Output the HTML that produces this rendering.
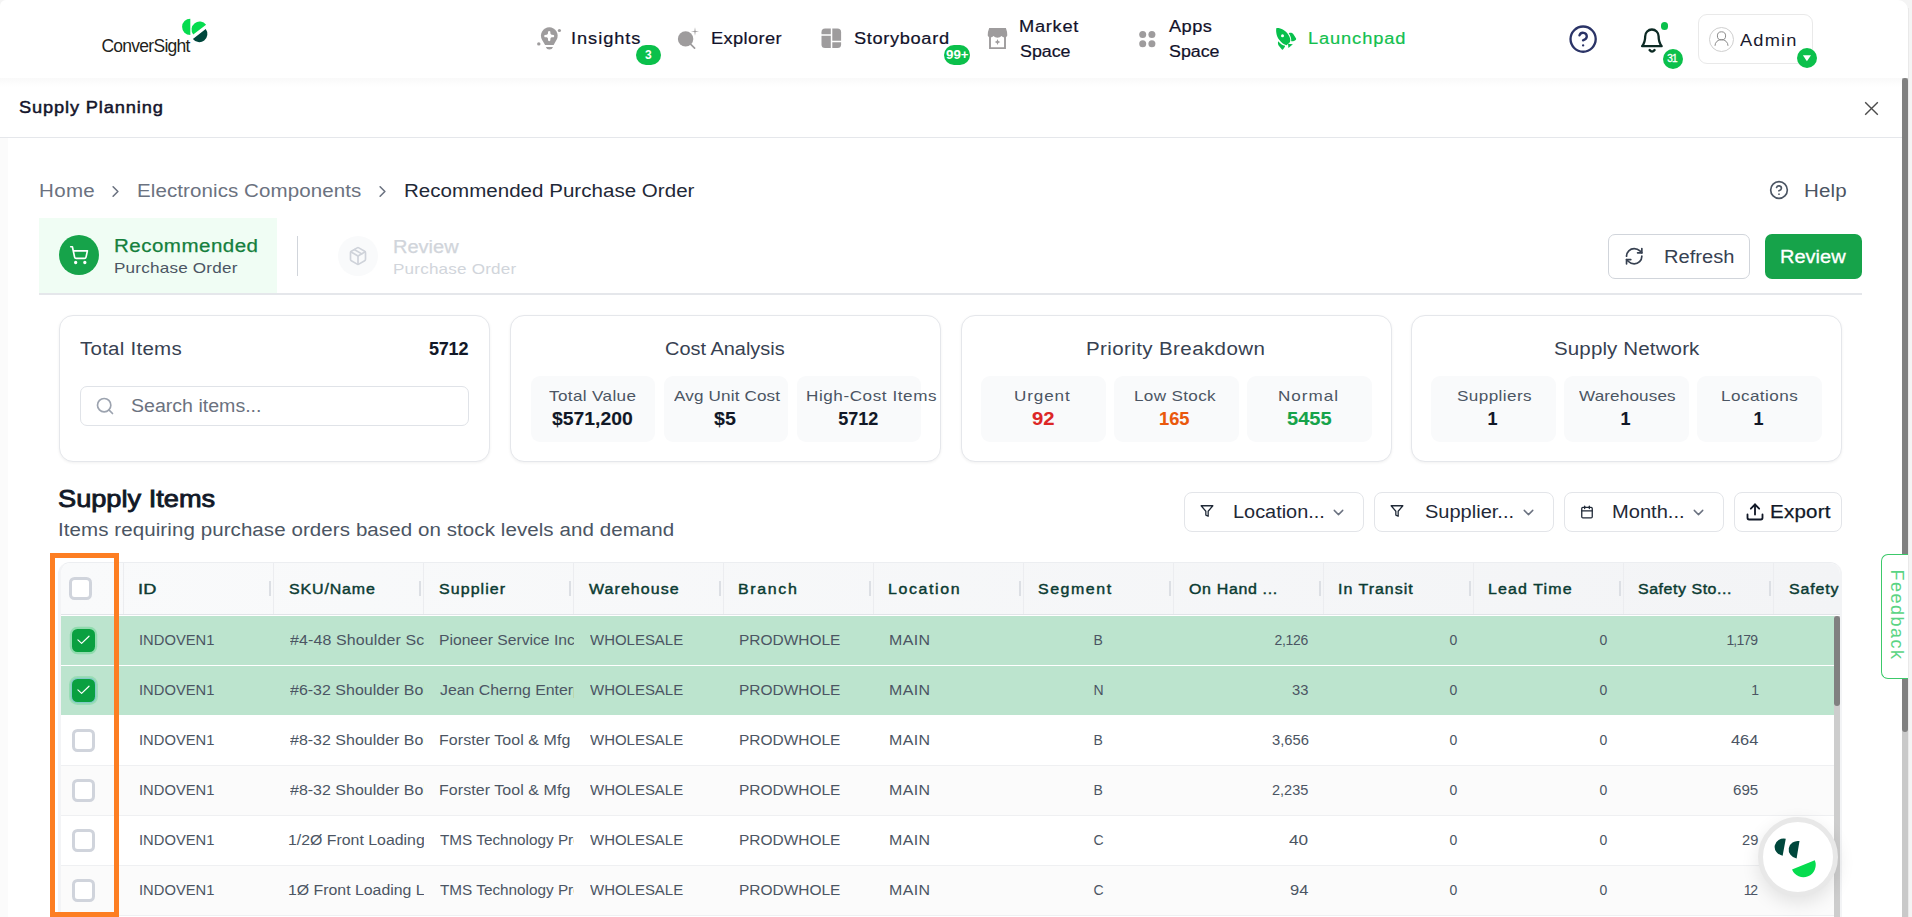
<!DOCTYPE html>
<html><head><meta charset="utf-8"><title>Supply Planning</title>
<style>
html,body{margin:0;padding:0;}
body{width:1912px;height:917px;overflow:hidden;background:#f4f4f4;font-family:"Liberation Sans",sans-serif;}
#root{position:relative;width:1912px;height:917px;overflow:hidden;}
.abs{position:absolute;}
.t{position:absolute;transform-origin:0 50%;white-space:nowrap;line-height:1;font-family:"Liberation Sans",sans-serif;}
.badge{background:#0bc04b;border-radius:10px;}
.card{top:315px;width:431px;height:147px;border:1px solid #e5e7eb;border-radius:14px;box-sizing:border-box;background:#fff;box-shadow:0 1px 3px rgba(0,0,0,0.06);}
.sub{top:376px;width:124.5px;height:65.5px;border-radius:9px;background:#f9fafb;}
.fbtn{top:492px;height:40px;border:1px solid #e3e5e9;border-radius:8px;box-sizing:border-box;background:#fff;}
svg{position:absolute;overflow:visible;}
.cb{width:22.6px;height:22.6px;border:3.3px solid #d0d4dc;border-radius:5.5px;box-sizing:border-box;background:#fff;}
.cbc{width:23px;height:23px;border-radius:5.5px;background:#0aa040;box-shadow:0 0 0 2.2px rgba(34,197,94,0.28);}
.cbc2{box-shadow:0 0 0 1.3px #82cbc6,0 0 0 3px rgba(34,197,94,0.22);}

</style></head>
<body>
<div id="root">
<!-- STRUCTURE -->
<div class="abs" style="left:0;top:0;width:1908px;height:917px;background:#fff;border-radius:6px 10px 0 0;"></div>
<!-- nav shadow -->
<div class="abs" style="left:0;top:78px;width:1902px;height:9px;background:linear-gradient(#f9f9f9,#fff);"></div>
<!-- left faint strip -->
<div class="abs" style="left:0;top:138px;width:8px;height:779px;background:#fbfbfb;"></div>
<div class="abs" style="left:1908px;top:8px;width:1px;height:909px;background:#e9e9e9;"></div>
<!-- page scrollbar -->
<div class="abs" style="left:1902px;top:78px;width:6px;height:839px;background:#c9c9c9;"></div>
<div class="abs" style="left:1902px;top:78px;width:6px;height:654px;background:#808080;border-radius:3px;"></div>
<!-- header border -->
<div class="abs" style="left:0;top:137px;width:1902px;height:1px;background:#e5e7eb;"></div>

<!-- admin box -->
<div class="abs" style="left:1698px;top:14px;width:115px;height:50px;border:1px solid #e9e9e9;border-radius:9px;box-sizing:border-box;"></div>
<div class="abs" style="left:1709px;top:27px;width:25px;height:25px;border:1px solid #cfcfcf;border-radius:50%;box-sizing:border-box;"></div>
<!-- badges -->
<div class="abs badge" style="left:636px;top:45px;width:25px;height:20px;"></div>
<div class="abs badge" style="left:944px;top:45px;width:26px;height:20px;"></div>
<div class="abs badge" style="left:1663px;top:49px;width:20px;height:20px;"></div>
<div class="abs badge" style="left:1797px;top:48px;width:20px;height:20px;"></div>
<div class="abs" style="left:1660.5px;top:22.2px;width:7.4px;height:7.4px;border-radius:50%;background:#0bc04b;"></div>

<!-- tabs -->
<div class="abs" style="left:39px;top:218px;width:238px;height:75px;background:#f0fdf4;"></div>
<div class="abs" style="left:39px;top:293px;width:1823px;height:2px;background:#e5e7eb;"></div>
<div class="abs" style="left:59px;top:235px;width:40px;height:40px;border-radius:50%;background:#16a34a;"></div>
<div class="abs" style="left:297.2px;top:236px;width:1.2px;height:40px;background:#d1d5db;"></div>
<div class="abs" style="left:338px;top:236px;width:40px;height:40px;border-radius:50%;background:#f9fafb;"></div>
<!-- buttons -->
<div class="abs" style="left:1608px;top:234px;width:142px;height:45px;border:1px solid #d1d5db;border-radius:7px;box-sizing:border-box;background:#fff;"></div>
<div class="abs" style="left:1765px;top:234px;width:97px;height:45px;border-radius:7px;background:#16a34a;"></div>

<!-- cards -->
<div class="abs card" style="left:59px;"></div>
<div class="abs card" style="left:510px;"></div>
<div class="abs card" style="left:961px;"></div>
<div class="abs card" style="left:1411px;"></div>
<!-- search input -->
<div class="abs" style="left:80px;top:386px;width:389px;height:40px;border:1px solid #e0e3e8;border-radius:7px;box-sizing:border-box;"></div>
<!-- sub boxes -->
<div class="abs sub" style="left:530.6px;"></div><div class="abs sub" style="left:663.6px;"></div><div class="abs sub" style="left:796.5px;"></div>
<div class="abs sub" style="left:981px;"></div><div class="abs sub" style="left:1114px;"></div><div class="abs sub" style="left:1247px;"></div>
<div class="abs sub" style="left:1431px;"></div><div class="abs sub" style="left:1564px;"></div><div class="abs sub" style="left:1697px;"></div>

<!-- filter buttons -->
<div class="abs fbtn" style="left:1184px;width:180px;"></div>
<div class="abs fbtn" style="left:1374px;width:180px;"></div>
<div class="abs fbtn" style="left:1564px;width:160px;"></div>
<div class="abs fbtn" style="left:1734px;width:108px;"></div>

<!-- table -->
<div class="abs" style="left:58px;top:562px;width:1784px;height:360px;border:1px solid #eceef1;border-left:3px solid #f3f4f6;border-right:2px solid #f3f4f6;border-radius:12px 12px 0 0;box-sizing:border-box;overflow:hidden;background:#fff;">
  <div class="abs" style="left:0;top:0;width:1779px;height:52px;background:linear-gradient(to right,#f9fafb,#f3f4f6);border-bottom:1px solid #e1e4e8;box-sizing:border-box;"></div>
  <div class="abs" style="left:0;top:53px;width:1773px;height:49px;background:#bce4ce;"></div>
  <div class="abs" style="left:0;top:103px;width:1773px;height:49px;background:#bce4ce;"></div>
  <div class="abs" style="left:0;top:152px;width:1773px;height:51px;background:#fff;border-bottom:1px solid #eff0f2;box-sizing:border-box;"></div>
  <div class="abs" style="left:0;top:203px;width:1773px;height:50px;background:#fbfbfb;border-bottom:1px solid #eff0f2;box-sizing:border-box;"></div>
  <div class="abs" style="left:0;top:253px;width:1773px;height:50px;background:#fff;border-bottom:1px solid #eff0f2;box-sizing:border-box;"></div>
  <div class="abs" style="left:0;top:303px;width:1773px;height:50px;background:#fbfbfb;border-bottom:1px solid #eff0f2;box-sizing:border-box;"></div>
  <!-- table scrollbar -->
  <div class="abs" style="left:1773px;top:53px;width:6px;height:310px;background:#cdcdcd;"></div>
  <div class="abs" style="left:1773px;top:53px;width:6px;height:90px;background:#808080;border-radius:3px;"></div>
</div>
<div class="abs" style="left:123px;top:563px;width:1px;height:51px;background:#ecedf0;"></div>
<div class="abs" style="left:273px;top:563px;width:1px;height:51px;background:#ecedf0;"></div>
<div class="abs" style="left:269px;top:581px;width:2px;height:15px;background:#dcdfe4;"></div>
<div class="abs" style="left:423px;top:563px;width:1px;height:51px;background:#ecedf0;"></div>
<div class="abs" style="left:419px;top:581px;width:2px;height:15px;background:#dcdfe4;"></div>
<div class="abs" style="left:573px;top:563px;width:1px;height:51px;background:#ecedf0;"></div>
<div class="abs" style="left:569px;top:581px;width:2px;height:15px;background:#dcdfe4;"></div>
<div class="abs" style="left:723px;top:563px;width:1px;height:51px;background:#ecedf0;"></div>
<div class="abs" style="left:719px;top:581px;width:2px;height:15px;background:#dcdfe4;"></div>
<div class="abs" style="left:873px;top:563px;width:1px;height:51px;background:#ecedf0;"></div>
<div class="abs" style="left:869px;top:581px;width:2px;height:15px;background:#dcdfe4;"></div>
<div class="abs" style="left:1023px;top:563px;width:1px;height:51px;background:#ecedf0;"></div>
<div class="abs" style="left:1019px;top:581px;width:2px;height:15px;background:#dcdfe4;"></div>
<div class="abs" style="left:1173px;top:563px;width:1px;height:51px;background:#ecedf0;"></div>
<div class="abs" style="left:1169px;top:581px;width:2px;height:15px;background:#dcdfe4;"></div>
<div class="abs" style="left:1323px;top:563px;width:1px;height:51px;background:#ecedf0;"></div>
<div class="abs" style="left:1319px;top:581px;width:2px;height:15px;background:#dcdfe4;"></div>
<div class="abs" style="left:1473px;top:563px;width:1px;height:51px;background:#ecedf0;"></div>
<div class="abs" style="left:1469px;top:581px;width:2px;height:15px;background:#dcdfe4;"></div>
<div class="abs" style="left:1623px;top:563px;width:1px;height:51px;background:#ecedf0;"></div>
<div class="abs" style="left:1619px;top:581px;width:2px;height:15px;background:#dcdfe4;"></div>
<div class="abs" style="left:1773px;top:563px;width:1px;height:51px;background:#ecedf0;"></div>
<div class="abs" style="left:1769px;top:581px;width:2px;height:15px;background:#dcdfe4;"></div>
<!-- orange highlight -->
<div class="abs" style="left:50px;top:553px;width:69px;height:364px;border:5px solid #fd7e22;box-sizing:border-box;"></div>

<!-- feedback tab -->
<div class="abs" style="left:1880.7px;top:553.5px;width:27.3px;height:125.3px;border:1.4px solid #3cc96a;border-right:none;border-radius:7px 0 0 7px;box-sizing:border-box;background:#fff;"></div>

<!-- chat bubble -->
<div class="abs" style="left:1758px;top:817px;width:80px;height:80px;border-radius:50%;background:#fff;border:5px solid #e8e8e8;box-sizing:border-box;box-shadow:0 6px 18px rgba(0,0,0,0.10);"></div>

<!-- ICONS -->
<!-- logo mark -->
<svg style="left:0;top:0" width="260" height="78" viewBox="0 0 260 78">
  <path d="M190.3 18.7 A8.2 8.2 0 0 0 190.3 35.1 Z" fill="#06dc4f"/>
  <g transform="translate(199.65 29.6) rotate(-37.6)"><path d="M-8.1 0 A8.1 8.1 0 0 1 8.1 0 Z" fill="#06dc4f"/></g>
  <g transform="translate(199.3 34.05) rotate(-37.6)"><path d="M-8.1 0 A8.1 8.1 0 0 0 8.1 0 Z" fill="#00473c"/></g>
</svg>
<!-- insights bulb -->
<svg style="left:0;top:0" width="1912" height="78" viewBox="0 0 1912 78">
  <g fill="#9e9c9d">
    <path d="M545.1 45 H553.6 L556.6 39.7 A8.35 8.35 0 1 0 542 39.7 Z"/>
    <path d="M545.8 46.9 H553 Q552.2 49.6 549.4 49.6 Q546.6 49.6 545.8 46.9Z"/>
    <circle cx="559.4" cy="30.5" r="1.6"/><circle cx="538.8" cy="43.9" r="1.7"/>
    <!-- explorer -->
    <circle cx="685.6" cy="38.9" r="7.7"/>
    <path d="M695 27.2 L695.6 30.9 L699.1 31.5 L695.6 32.1 L695 35.8 L694.4 32.1 L690.9 31.5 L694.4 30.9 Z"/>
    <!-- storyboard -->
    <rect x="821.5" y="28.6" width="19.6" height="19.5" rx="3.6"/>
    <!-- market awning -->
    <path d="M989.2 28 H1005.9 Q1007.4 32 1007.3 35.4 Q1006.5 37.6 1004.4 37.4 Q1002.6 37.2 1001.6 36 Q999.8 37.7 997.5 37.7 Q995.2 37.7 993.4 36 Q992.4 37.2 990.6 37.4 Q988.5 37.6 987.7 35.4 Q987.6 32 989.2 28Z"/>
    <path d="M997.5 38.9 Q997.8 41.5 1000.3 41.9 Q997.8 42.3 997.5 44.9 Q997.2 42.3 994.7 41.9 Q997.2 41.5 997.5 38.9Z"/>
    <!-- apps -->
    <circle cx="1142.7" cy="34.5" r="3.5"/><circle cx="1151.9" cy="34.5" r="3.5"/>
    <circle cx="1142.7" cy="43.7" r="3.5"/><circle cx="1151.9" cy="43.7" r="3.5"/>
  </g>
  <path d="M548.10 31.60 Q549.20 30.40 550.30 31.60 L550.45 33.60 Q550.70 34.60 551.70 34.85 L553.70 35.00 Q554.90 36.10 553.70 37.20 L551.70 37.35 Q550.70 37.60 550.45 38.60 L550.30 40.60 Q549.20 41.80 548.10 40.60 L547.95 38.60 Q547.70 37.60 546.70 37.35 L544.70 37.20 Q543.50 36.10 544.70 35.00 L546.70 34.85 Q547.70 34.60 547.95 33.60 Z" fill="#fff"/>
  <path d="M690.8 44.4 L694.6 48.1" stroke="#9e9c9d" stroke-width="1.7" stroke-linecap="round" fill="none"/>
  <path d="M831.55 28 V49 M821 35 H831 M832 41.4 H842" stroke="#fff" stroke-width="1.5" fill="none"/>
  <path d="M990 36 V48.1 H1005 V36" stroke="#9e9c9d" stroke-width="1.9" fill="none"/>
  <!-- rocket -->
  <g fill="#08c04c">
    <path d="M1276.3 28.2 C1280 27.6 1285.5 30.5 1288.2 34.5 C1290 37 1291 40 1289.9 42.2 L1286.6 45.2 C1284 44.9 1281.5 42.8 1279 39.6 C1277 37 1275.6 32 1276.3 28.2Z"/>
    <path d="M1288.7 33.2 C1290.5 32.2 1292.5 32.8 1293.4 34.2 L1296.1 38.6 C1296.4 39.6 1295.8 40.3 1294.5 40.7 C1293.4 41.2 1292 41.5 1291.2 41.2 C1291.6 38.5 1290.3 35.5 1288.7 33.2Z"/>
    <path d="M1278.2 41.2 C1277.6 42.8 1278 44.6 1279 45.9 L1281.9 49.4 C1282.6 50 1283.3 49.6 1283.7 48.6 C1284.5 47.6 1285.2 46.6 1285 45.8 C1282.4 45.2 1280 43.5 1278.2 41.2Z"/>
    <path d="M1288 43.7 L1292.9 44.3 L1288.4 48.1Z"/>
  </g>
  <circle cx="1282.5" cy="35.7" r="1.5" fill="#fff"/>
  <!-- bell -->
  <path d="M1642.1 46.2 C1644.6 43 1645.2 40 1645.2 36.2 A6.7 6.7 0 0 1 1658.6 36.2 C1658.6 40 1659.2 43 1661.7 46.2 Z" fill="none" stroke="#0c2a24" stroke-width="2.3" stroke-linejoin="round"/>
  <path d="M1649.6 50.1 Q1652 53.2 1654.6 50.1" fill="none" stroke="#0c2a24" stroke-width="2.4" stroke-linecap="round"/>
  <!-- user -->
  <circle cx="1721.5" cy="35.9" r="4.1" fill="none" stroke="#8a8a8a" stroke-width="1"/>
  <path d="M1715 45.8 A6.5 6.3 0 0 1 1728 45.8" fill="none" stroke="#8a8a8a" stroke-width="1"/>
  <!-- dropdown triangle -->
  <path d="M1802.9 55.2 H1811 L1806.9 61.2Z" fill="#fff"/>
</svg>
<!-- help circle nav -->
<svg style="left:1567.9px;top:23.73px" width="30.24" height="30.24" viewBox="0 0 24 24" fill="none" stroke="#2b3467" stroke-width="1.85" stroke-linecap="round" stroke-linejoin="round"><circle cx="12" cy="12" r="10"/><path d="M9.09 9a3 3 0 0 1 5.83 1c0 2-3 3-3 3"/><path d="M12 17h.01"/></svg>
<!-- close X -->
<svg style="left:1864px;top:101px" width="15" height="15" viewBox="0 0 15 15"><path d="M1.2 1.2 L13.8 13.8 M13.8 1.2 L1.2 13.8" stroke="#4b4b4b" stroke-width="1.4" fill="none"/></svg>
<!-- breadcrumb chevrons -->
<svg style="left:106.3px;top:181.6px" width="19" height="19" viewBox="0 0 24 24" fill="none" stroke="#6b7280" stroke-width="2" stroke-linecap="round" stroke-linejoin="round"><path d="m9 18 6-6-6-6"/></svg>
<svg style="left:373.1px;top:181.6px" width="19" height="19" viewBox="0 0 24 24" fill="none" stroke="#6b7280" stroke-width="2" stroke-linecap="round" stroke-linejoin="round"><path d="m9 18 6-6-6-6"/></svg>
<!-- help small -->
<svg style="left:1769px;top:180px" width="20" height="20" viewBox="0 0 24 24" fill="none" stroke="#4b5563" stroke-width="2" stroke-linecap="round" stroke-linejoin="round"><circle cx="12" cy="12" r="10"/><path d="M9.09 9a3 3 0 0 1 5.83 1c0 2-3 3-3 3"/><path d="M12 17h.01"/></svg>
<!-- cart -->
<svg style="left:69.1px;top:245.3px" width="20" height="20" viewBox="0 0 24 24" fill="none" stroke="#fff" stroke-width="2" stroke-linecap="round" stroke-linejoin="round"><circle cx="8" cy="21" r="1"/><circle cx="19" cy="21" r="1"/><path d="M2.05 2.05h2l2.66 12.42a2 2 0 0 0 2 1.58h9.78a2 2 0 0 0 1.95-1.57l1.65-7.43H5.12"/></svg>
<!-- package -->
<svg style="left:348px;top:246px" width="20" height="20" viewBox="0 0 24 24" fill="none" stroke="#cfd3da" stroke-width="2" stroke-linecap="round" stroke-linejoin="round"><path d="m7.5 4.27 9 5.15"/><path d="M21 8a2 2 0 0 0-1-1.73l-7-4a2 2 0 0 0-2 0l-7 4A2 2 0 0 0 3 8v8a2 2 0 0 0 1 1.73l7 4a2 2 0 0 0 2 0l7-4A2 2 0 0 0 21 16Z"/><path d="m3.3 7 8.7 5 8.7-5"/><path d="M12 22V12"/></svg>
<!-- refresh -->
<svg style="left:1623.8px;top:245.7px" width="20.4" height="20.4" viewBox="0 0 24 24" fill="none" stroke="#374151" stroke-width="2" stroke-linecap="round" stroke-linejoin="round"><path d="M3 12a9 9 0 0 1 9-9 9.75 9.75 0 0 1 6.74 2.74L21 8"/><path d="M21 3v5h-5"/><path d="M21 12a9 9 0 0 1-9 9 9.75 9.75 0 0 1-6.74-2.74L3 16"/><path d="M8 16H3v5"/></svg>
<!-- search -->
<svg style="left:95px;top:396px" width="20" height="20" viewBox="0 0 24 24" fill="none" stroke="#9ca3af" stroke-width="2" stroke-linecap="round" stroke-linejoin="round"><circle cx="11" cy="11" r="8"/><path d="m21 21-4.3-4.3"/></svg>
<!-- filters -->
<svg style="left:1200.1px;top:504.1px" width="14" height="14" viewBox="0 0 24 24" fill="none" stroke="#1f2937" stroke-width="2.2" stroke-linecap="round" stroke-linejoin="round"><polygon points="22 3 2 3 10 12.46 10 19 14 21 14 12.46 22 3"/></svg>
<svg style="left:1390.2px;top:504.1px" width="14" height="14" viewBox="0 0 24 24" fill="none" stroke="#1f2937" stroke-width="2.2" stroke-linecap="round" stroke-linejoin="round"><polygon points="22 3 2 3 10 12.46 10 19 14 21 14 12.46 22 3"/></svg>
<!-- calendar -->
<svg style="left:1580px;top:504.5px" width="14" height="14" viewBox="0 0 24 24" fill="none" stroke="#1f2937" stroke-width="2.2" stroke-linecap="round" stroke-linejoin="round"><path d="M8 2v4"/><path d="M16 2v4"/><rect width="18" height="18" x="3" y="4" rx="2"/><path d="M3 10h18"/></svg>
<!-- upload -->
<svg style="left:1744.9px;top:501.8px" width="20" height="20" viewBox="0 0 24 24" fill="none" stroke="#111827" stroke-width="2.2" stroke-linecap="round" stroke-linejoin="round"><path d="M21 15v4a2 2 0 0 1-2 2H5a2 2 0 0 1-2-2v-4"/><polyline points="17 8 12 3 7 8"/><line x1="12" x2="12" y1="3" y2="15"/></svg>
<!-- chevrons down -->
<svg style="left:1330.1px;top:503.9px" width="17" height="17" viewBox="0 0 24 24" fill="none" stroke="#6b7280" stroke-width="2" stroke-linecap="round" stroke-linejoin="round"><path d="m6 9 6 6 6-6"/></svg>
<svg style="left:1520px;top:503.9px" width="17" height="17" viewBox="0 0 24 24" fill="none" stroke="#6b7280" stroke-width="2" stroke-linecap="round" stroke-linejoin="round"><path d="m6 9 6 6 6-6"/></svg>
<svg style="left:1689.7px;top:503.5px" width="17" height="17" viewBox="0 0 24 24" fill="none" stroke="#6b7280" stroke-width="2" stroke-linecap="round" stroke-linejoin="round"><path d="m6 9 6 6 6-6"/></svg>
<!-- checkboxes -->
<div class="abs cb" style="left:69px;top:577.2px;"></div>
<div class="abs cbc" style="left:72px;top:629px;"></div>
<div class="abs cbc cbc2" style="left:72px;top:679px;"></div>
<div class="abs cb" style="left:72.2px;top:729.2px;"></div>
<div class="abs cb" style="left:72.2px;top:779.2px;"></div>
<div class="abs cb" style="left:72.2px;top:829.2px;"></div>
<div class="abs cb" style="left:72.2px;top:879.2px;"></div>
<svg style="left:72px;top:629px" width="23" height="23" viewBox="0 0 23 23"><path d="M5.9 10.9 L9.6 14.4 L17 7.2" stroke="#fff" stroke-width="1.2" fill="none" stroke-linecap="round" stroke-linejoin="round"/></svg>
<svg style="left:72px;top:679px" width="23" height="23" viewBox="0 0 23 23"><path d="M5.9 10.9 L9.6 14.4 L17 7.2" stroke="#fff" stroke-width="1.2" fill="none" stroke-linecap="round" stroke-linejoin="round"/></svg>
<!-- chat bubble glyph -->
<svg style="left:1758px;top:817px" width="80" height="80" viewBox="0 0 80 80">
  <g transform="translate(26.2 30.2) rotate(10.5)"><path d="M0 -8.6 A9.6 8.6 0 0 0 0 8.6 Z" fill="#00473c"/></g>
  <g transform="translate(40.05 32.8) rotate(9.5)"><path d="M0 -8.8 A9.4 8.8 0 0 0 0 8.8 Z" fill="#00473c"/></g>
  <g transform="translate(45.4 47.95) rotate(-22.2)"><path d="M-12.3 0 A12.3 12.3 0 0 0 12.3 0 Z" fill="#06dc4f"/></g>
</svg>
<!-- feedback text -->
<div class="abs" style="left:1897.3px;top:615.3px;width:0;height:0;"><span class="t" style="transform:translate(-50%,-50%) rotate(90deg);transform-origin:50% 50%;left:0;top:0;font-size:18px;color:#5ad483;letter-spacing:1.5px;">Feedback</span></div>

<!-- TEXT -->
<span class="t" style="left:570.96px;top:31.00px;font-size:16px;color:#12122a;letter-spacing:0.825px;transform:scaleX(1.1400);-webkit-text-stroke:0.2px #12122a;">Insights</span>
<span class="t" style="left:710.86px;top:31.00px;font-size:16px;color:#12122a;letter-spacing:0.345px;transform:scaleX(1.1400);-webkit-text-stroke:0.2px #12122a;">Explorer</span>
<span class="t" style="left:853.80px;top:31.00px;font-size:16px;color:#12122a;letter-spacing:0.565px;transform:scaleX(1.1400);-webkit-text-stroke:0.2px #12122a;">Storyboard</span>
<span class="t" style="left:1019.06px;top:19.00px;font-size:16px;color:#12122a;letter-spacing:0.625px;transform:scaleX(1.1400);-webkit-text-stroke:0.2px #12122a;">Market</span>
<span class="t" style="left:1020.20px;top:44.00px;font-size:16px;color:#12122a;letter-spacing:0.000px;transform:scaleX(1.1129);-webkit-text-stroke:0.2px #12122a;">Space</span>
<span class="t" style="left:1168.50px;top:19.00px;font-size:16px;color:#12122a;letter-spacing:0.358px;transform:scaleX(1.1400);-webkit-text-stroke:0.2px #12122a;">Apps</span>
<span class="t" style="left:1168.50px;top:44.00px;font-size:16px;color:#12122a;letter-spacing:0.000px;transform:scaleX(1.1129);-webkit-text-stroke:0.2px #12122a;">Space</span>
<span class="t" style="left:1308.26px;top:31.00px;font-size:16px;color:#13c04e;letter-spacing:0.777px;transform:scaleX(1.1400);-webkit-text-stroke:0.2px #13c04e;">Launchpad</span>
<span class="t" style="left:1740.30px;top:33.00px;font-size:16px;color:#1a1a2e;letter-spacing:1.036px;transform:scaleX(1.1400);">Admin</span>
<span class="t" style="left:644.90px;top:49.00px;font-size:12px;color:#fff;letter-spacing:0.000px;font-weight:700;">3</span>
<span class="t" style="left:945.80px;top:49.00px;font-size:12px;color:#fff;letter-spacing:0.000px;transform:scaleX(1.1058);font-weight:700;">99+</span>
<span class="t" style="left:1667.20px;top:54.00px;font-size:10px;color:#fff;letter-spacing:-0.762px;-webkit-text-stroke:0.3px #fff;">31</span>
<span class="t" style="left:101.40px;top:38.00px;font-size:17.5px;color:#231f20;letter-spacing:-0.724px;">ConverSight</span>
<span class="t" style="left:19.00px;top:100.00px;font-size:16px;color:#14142b;letter-spacing:0.751px;transform:scaleX(1.1400);-webkit-text-stroke:0.45px #14142b;">Supply Planning</span>
<span class="t" style="left:38.66px;top:182.00px;font-size:18px;color:#6b7280;letter-spacing:0.297px;transform:scaleX(1.1400);">Home</span>
<span class="t" style="left:137.36px;top:182.00px;font-size:18px;color:#6b7280;letter-spacing:0.077px;transform:scaleX(1.1400);">Electronics Components</span>
<span class="t" style="left:403.86px;top:182.00px;font-size:18px;color:#1f2937;letter-spacing:0.026px;transform:scaleX(1.1400);">Recommended Purchase Order</span>
<span class="t" style="left:1803.86px;top:182.00px;font-size:18px;color:#4b5563;letter-spacing:0.161px;transform:scaleX(1.1400);">Help</span>
<span class="t" style="left:113.86px;top:237.00px;font-size:18px;color:#15803d;letter-spacing:0.425px;transform:scaleX(1.1400);-webkit-text-stroke:0.25px #15803d;">Recommended</span>
<span class="t" style="left:113.86px;top:260.00px;font-size:15px;color:#4b5563;letter-spacing:0.178px;transform:scaleX(1.1400);">Purchase Order</span>
<span class="t" style="left:392.79px;top:238.00px;font-size:18px;color:#d1d5db;letter-spacing:0.000px;transform:scaleX(1.1115);-webkit-text-stroke:0.25px #d1d5db;">Review</span>
<span class="t" style="left:392.76px;top:261.00px;font-size:15px;color:#d1d5db;letter-spacing:0.164px;transform:scaleX(1.1400);">Purchase Order</span>
<span class="t" style="left:1663.88px;top:248.00px;font-size:18px;color:#374151;letter-spacing:-0.000px;transform:scaleX(1.1161);">Refresh</span>
<span class="t" style="left:1780.29px;top:248.00px;font-size:18px;color:#fff;letter-spacing:-0.000px;transform:scaleX(1.1115);-webkit-text-stroke:0.3px #fff;">Review</span>
<span class="t" style="left:80.10px;top:340.00px;font-size:18px;color:#374151;letter-spacing:0.218px;transform:scaleX(1.1400);">Total Items</span>
<span class="t" style="left:428.90px;top:340.00px;font-size:18px;color:#111827;letter-spacing:-0.177px;font-weight:700;-webkit-text-stroke:0.1px #111827;">5712</span>
<span class="t" style="left:131.20px;top:397.00px;font-size:18px;color:#6b7280;letter-spacing:0.000px;transform:scaleX(1.0870);">Search items...</span>
<span class="t" style="left:664.70px;top:340.00px;font-size:18px;color:#374151;letter-spacing:0.000px;transform:scaleX(1.1079);">Cost Analysis</span>
<span class="t" style="left:1086.36px;top:340.00px;font-size:18px;color:#374151;letter-spacing:0.340px;transform:scaleX(1.1400);">Priority Breakdown</span>
<span class="t" style="left:1553.50px;top:340.00px;font-size:18px;color:#374151;letter-spacing:0.112px;transform:scaleX(1.1400);">Supply Network</span>
<span class="t" style="left:548.70px;top:388.00px;font-size:15px;color:#4b5563;letter-spacing:0.320px;transform:scaleX(1.1400);">Total Value</span>
<span class="t" style="left:674.20px;top:388.00px;font-size:15px;color:#4b5563;letter-spacing:0.133px;transform:scaleX(1.1400);">Avg Unit Cost</span>
<span class="t" style="left:805.96px;top:388.00px;font-size:15px;color:#4b5563;letter-spacing:0.497px;transform:scaleX(1.1400);">High-Cost Items</span>
<span class="t" style="left:1013.86px;top:388.00px;font-size:15px;color:#4b5563;letter-spacing:0.766px;transform:scaleX(1.1400);">Urgent</span>
<span class="t" style="left:1133.86px;top:388.00px;font-size:15px;color:#4b5563;letter-spacing:0.294px;transform:scaleX(1.1400);">Low Stock</span>
<span class="t" style="left:1278.36px;top:388.00px;font-size:15px;color:#4b5563;letter-spacing:0.862px;transform:scaleX(1.1400);">Normal</span>
<span class="t" style="left:1456.50px;top:388.00px;font-size:15px;color:#4b5563;letter-spacing:0.360px;transform:scaleX(1.1400);">Suppliers</span>
<span class="t" style="left:1578.50px;top:388.00px;font-size:15px;color:#4b5563;letter-spacing:0.118px;transform:scaleX(1.1400);">Warehouses</span>
<span class="t" style="left:1720.86px;top:388.00px;font-size:15px;color:#4b5563;letter-spacing:0.385px;transform:scaleX(1.1400);">Locations</span>
<span class="t" style="left:551.80px;top:410.00px;font-size:18px;color:#111827;letter-spacing:0.000px;transform:scaleX(1.0751);font-weight:700;-webkit-text-stroke:0.1px #111827;">$571,200</span>
<span class="t" style="left:714.20px;top:410.00px;font-size:18px;color:#111827;letter-spacing:0.000px;transform:scaleX(1.0894);font-weight:700;-webkit-text-stroke:0.1px #111827;">$5</span>
<span class="t" style="left:838.20px;top:410.00px;font-size:18px;color:#111827;letter-spacing:-0.011px;font-weight:700;-webkit-text-stroke:0.1px #111827;">5712</span>
<span class="t" style="left:1031.50px;top:410.00px;font-size:18px;color:#dc2626;letter-spacing:0.000px;transform:scaleX(1.1244);font-weight:700;-webkit-text-stroke:0.1px #dc2626;">92</span>
<span class="t" style="left:1159.48px;top:410.00px;font-size:18px;color:#ea580c;letter-spacing:0.000px;transform:scaleX(1.0165);font-weight:700;-webkit-text-stroke:0.1px #ea580c;">165</span>
<span class="t" style="left:1286.50px;top:410.00px;font-size:18px;color:#16a34a;letter-spacing:0.000px;transform:scaleX(1.1116);font-weight:700;-webkit-text-stroke:0.1px #16a34a;">5455</span>
<span class="t" style="left:1487.50px;top:410.00px;font-size:18px;color:#111827;letter-spacing:0.000px;font-weight:700;-webkit-text-stroke:0.1px #111827;">1</span>
<span class="t" style="left:1620.50px;top:410.00px;font-size:18px;color:#111827;letter-spacing:0.000px;font-weight:700;-webkit-text-stroke:0.1px #111827;">1</span>
<span class="t" style="left:1753.50px;top:410.00px;font-size:18px;color:#111827;letter-spacing:0.000px;font-weight:700;-webkit-text-stroke:0.1px #111827;">1</span>
<span class="t" style="left:58.47px;top:487.00px;font-size:24px;color:#111827;letter-spacing:0.000px;transform:scaleX(1.1327);-webkit-text-stroke:0.85px #111827;">Supply Items</span>
<span class="t" style="left:58.06px;top:521.00px;font-size:18px;color:#4b5563;letter-spacing:0.068px;transform:scaleX(1.1400);">Items requiring purchase orders based on stock levels and demand</span>
<span class="t" style="left:1233.09px;top:503.00px;font-size:18px;color:#1f2937;letter-spacing:0.000px;transform:scaleX(1.1054);">Location...</span>
<span class="t" style="left:1424.60px;top:503.00px;font-size:18px;color:#1f2937;letter-spacing:0.000px;transform:scaleX(1.1120);">Supplier...</span>
<span class="t" style="left:1612.48px;top:503.00px;font-size:18px;color:#1f2937;letter-spacing:-0.000px;transform:scaleX(1.1154);">Month...</span>
<span class="t" style="left:1769.76px;top:503.00px;font-size:18px;color:#111827;letter-spacing:0.217px;transform:scaleX(1.1400);-webkit-text-stroke:0.25px #111827;">Export</span>
<span class="t" style="left:137.90px;top:582.00px;font-size:14px;color:#0b3b32;letter-spacing:0.110px;transform:scaleX(1.3000);-webkit-text-stroke:0.4px #0b3b32;">ID</span>
<span class="t" style="left:288.90px;top:582.00px;font-size:14px;color:#0b3b32;letter-spacing:0.756px;transform:scaleX(1.1400);-webkit-text-stroke:0.4px #0b3b32;">SKU/Name</span>
<span class="t" style="left:438.80px;top:582.00px;font-size:14px;color:#0b3b32;letter-spacing:0.947px;transform:scaleX(1.1400);-webkit-text-stroke:0.4px #0b3b32;">Supplier</span>
<span class="t" style="left:589.40px;top:582.00px;font-size:14px;color:#0b3b32;letter-spacing:0.947px;transform:scaleX(1.1400);-webkit-text-stroke:0.4px #0b3b32;">Warehouse</span>
<span class="t" style="left:737.86px;top:582.00px;font-size:14px;color:#0b3b32;letter-spacing:1.450px;transform:scaleX(1.1400);-webkit-text-stroke:0.4px #0b3b32;">Branch</span>
<span class="t" style="left:887.56px;top:582.00px;font-size:14px;color:#0b3b32;letter-spacing:1.403px;transform:scaleX(1.1400);-webkit-text-stroke:0.4px #0b3b32;">Location</span>
<span class="t" style="left:1038.40px;top:582.00px;font-size:14px;color:#0b3b32;letter-spacing:1.344px;transform:scaleX(1.1400);-webkit-text-stroke:0.4px #0b3b32;">Segment</span>
<span class="t" style="left:1188.50px;top:582.00px;font-size:14px;color:#0b3b32;letter-spacing:0.579px;transform:scaleX(1.1400);-webkit-text-stroke:0.4px #0b3b32;">On Hand ...</span>
<span class="t" style="left:1337.86px;top:582.00px;font-size:14px;color:#0b3b32;letter-spacing:0.886px;transform:scaleX(1.1400);-webkit-text-stroke:0.4px #0b3b32;">In Transit</span>
<span class="t" style="left:1487.56px;top:582.00px;font-size:14px;color:#0b3b32;letter-spacing:0.996px;transform:scaleX(1.1400);-webkit-text-stroke:0.4px #0b3b32;">Lead Time</span>
<span class="t" style="left:1638.30px;top:582.00px;font-size:14px;color:#0b3b32;letter-spacing:0.473px;transform:scaleX(1.1400);-webkit-text-stroke:0.4px #0b3b32;">Safety Sto...</span>
<div class="abs" style="left:1780px;top:578.00px;width:61.00px;height:22px;overflow:hidden;"><span class="t" style="left:8.70px;top:4px;font-size:14px;color:#0b3b32;letter-spacing:0.764px;transform:scaleX(1.1400);-webkit-text-stroke:0.4px #0b3b32;">Safety Stock</span></div>
<span class="t" style="left:138.95px;top:633.00px;font-size:14px;color:#4b5563;letter-spacing:0.000px;transform:scaleX(1.0539);">INDOVEN1</span>
<div class="abs" style="left:280px;top:629.00px;width:143.60px;height:22px;overflow:hidden;"><span class="t" style="left:9.60px;top:4px;font-size:14px;color:#4b5563;letter-spacing:0.110px;transform:scaleX(1.1400);">#4-48 Shoulder Screw</span></div>
<div class="abs" style="left:430px;top:629.00px;width:143.60px;height:22px;overflow:hidden;"><span class="t" style="left:8.88px;top:4px;font-size:14px;color:#4b5563;letter-spacing:0.000px;transform:scaleX(1.1189);">Pioneer Service Inc.</span></div>
<span class="t" style="left:590.20px;top:633.00px;font-size:14px;color:#4b5563;letter-spacing:0.000px;transform:scaleX(1.0691);">WHOLESALE</span>
<span class="t" style="left:738.80px;top:633.00px;font-size:14px;color:#4b5563;letter-spacing:0.000px;transform:scaleX(1.1045);">PRODWHOLE</span>
<span class="t" style="left:888.86px;top:633.00px;font-size:14px;color:#4b5563;letter-spacing:0.323px;transform:scaleX(1.1400);">MAIN</span>
<span class="t" style="left:1093.60px;top:633.00px;font-size:14px;color:#4b5563;letter-spacing:0.000px;">B</span>
<span class="t" style="left:1274.40px;top:633.00px;font-size:14px;color:#4b5563;letter-spacing:-0.262px;">2,126</span>
<span class="t" style="left:1449.50px;top:633.00px;font-size:14px;color:#4b5563;letter-spacing:0.000px;">0</span>
<span class="t" style="left:1599.55px;top:633.00px;font-size:14px;color:#4b5563;letter-spacing:0.000px;">0</span>
<span class="t" style="left:1726.40px;top:633.00px;font-size:14px;color:#4b5563;letter-spacing:-0.837px;">1,179</span>
<span class="t" style="left:138.95px;top:683.00px;font-size:14px;color:#4b5563;letter-spacing:0.000px;transform:scaleX(1.0539);">INDOVEN1</span>
<div class="abs" style="left:280px;top:679.00px;width:143.60px;height:22px;overflow:hidden;"><span class="t" style="left:9.60px;top:4px;font-size:14px;color:#4b5563;letter-spacing:0.014px;transform:scaleX(1.1400);">#6-32 Shoulder Bolt</span></div>
<div class="abs" style="left:430px;top:679.00px;width:143.60px;height:22px;overflow:hidden;"><span class="t" style="left:10.00px;top:4px;font-size:14px;color:#4b5563;letter-spacing:0.000px;transform:scaleX(1.1328);">Jean Cherng Enterprise</span></div>
<span class="t" style="left:590.20px;top:683.00px;font-size:14px;color:#4b5563;letter-spacing:0.000px;transform:scaleX(1.0691);">WHOLESALE</span>
<span class="t" style="left:738.80px;top:683.00px;font-size:14px;color:#4b5563;letter-spacing:0.000px;transform:scaleX(1.1045);">PRODWHOLE</span>
<span class="t" style="left:888.86px;top:683.00px;font-size:14px;color:#4b5563;letter-spacing:0.323px;transform:scaleX(1.1400);">MAIN</span>
<span class="t" style="left:1093.60px;top:683.00px;font-size:14px;color:#4b5563;letter-spacing:0.000px;">N</span>
<span class="t" style="left:1292.00px;top:683.00px;font-size:14px;color:#4b5563;letter-spacing:0.000px;transform:scaleX(1.0516);">33</span>
<span class="t" style="left:1449.50px;top:683.00px;font-size:14px;color:#4b5563;letter-spacing:0.000px;">0</span>
<span class="t" style="left:1599.55px;top:683.00px;font-size:14px;color:#4b5563;letter-spacing:0.000px;">0</span>
<span class="t" style="left:1751.35px;top:683.00px;font-size:14px;color:#4b5563;letter-spacing:0.000px;">1</span>
<span class="t" style="left:138.95px;top:733.00px;font-size:14px;color:#4b5563;letter-spacing:0.000px;transform:scaleX(1.0539);">INDOVEN1</span>
<div class="abs" style="left:280px;top:729.00px;width:143.60px;height:22px;overflow:hidden;"><span class="t" style="left:9.60px;top:4px;font-size:14px;color:#4b5563;letter-spacing:0.014px;transform:scaleX(1.1400);">#8-32 Shoulder Bolt</span></div>
<div class="abs" style="left:430px;top:729.00px;width:143.60px;height:22px;overflow:hidden;"><span class="t" style="left:8.86px;top:4px;font-size:14px;color:#4b5563;letter-spacing:0.065px;transform:scaleX(1.1400);">Forster Tool &amp; Mfg</span></div>
<span class="t" style="left:590.20px;top:733.00px;font-size:14px;color:#4b5563;letter-spacing:0.000px;transform:scaleX(1.0691);">WHOLESALE</span>
<span class="t" style="left:738.80px;top:733.00px;font-size:14px;color:#4b5563;letter-spacing:0.000px;transform:scaleX(1.1045);">PRODWHOLE</span>
<span class="t" style="left:888.86px;top:733.00px;font-size:14px;color:#4b5563;letter-spacing:0.323px;transform:scaleX(1.1400);">MAIN</span>
<span class="t" style="left:1093.60px;top:733.00px;font-size:14px;color:#4b5563;letter-spacing:0.000px;">B</span>
<span class="t" style="left:1271.50px;top:733.00px;font-size:14px;color:#4b5563;letter-spacing:0.000px;transform:scaleX(1.0525);">3,656</span>
<span class="t" style="left:1449.50px;top:733.00px;font-size:14px;color:#4b5563;letter-spacing:0.000px;">0</span>
<span class="t" style="left:1599.55px;top:733.00px;font-size:14px;color:#4b5563;letter-spacing:0.000px;">0</span>
<span class="t" style="left:1730.70px;top:733.00px;font-size:14px;color:#4b5563;letter-spacing:0.000px;transform:scaleX(1.1709);">464</span>
<span class="t" style="left:138.95px;top:783.00px;font-size:14px;color:#4b5563;letter-spacing:0.000px;transform:scaleX(1.0539);">INDOVEN1</span>
<div class="abs" style="left:280px;top:779.00px;width:143.60px;height:22px;overflow:hidden;"><span class="t" style="left:9.60px;top:4px;font-size:14px;color:#4b5563;letter-spacing:0.014px;transform:scaleX(1.1400);">#8-32 Shoulder Bolt</span></div>
<div class="abs" style="left:430px;top:779.00px;width:143.60px;height:22px;overflow:hidden;"><span class="t" style="left:8.86px;top:4px;font-size:14px;color:#4b5563;letter-spacing:0.065px;transform:scaleX(1.1400);">Forster Tool &amp; Mfg</span></div>
<span class="t" style="left:590.20px;top:783.00px;font-size:14px;color:#4b5563;letter-spacing:0.000px;transform:scaleX(1.0691);">WHOLESALE</span>
<span class="t" style="left:738.80px;top:783.00px;font-size:14px;color:#4b5563;letter-spacing:0.000px;transform:scaleX(1.1045);">PRODWHOLE</span>
<span class="t" style="left:888.86px;top:783.00px;font-size:14px;color:#4b5563;letter-spacing:0.323px;transform:scaleX(1.1400);">MAIN</span>
<span class="t" style="left:1093.60px;top:783.00px;font-size:14px;color:#4b5563;letter-spacing:0.000px;">B</span>
<span class="t" style="left:1272.00px;top:783.00px;font-size:14px;color:#4b5563;letter-spacing:0.000px;transform:scaleX(1.0384);">2,235</span>
<span class="t" style="left:1449.50px;top:783.00px;font-size:14px;color:#4b5563;letter-spacing:0.000px;">0</span>
<span class="t" style="left:1599.55px;top:783.00px;font-size:14px;color:#4b5563;letter-spacing:0.000px;">0</span>
<span class="t" style="left:1732.80px;top:783.00px;font-size:14px;color:#4b5563;letter-spacing:0.000px;transform:scaleX(1.0818);">695</span>
<span class="t" style="left:138.95px;top:833.00px;font-size:14px;color:#4b5563;letter-spacing:0.000px;transform:scaleX(1.0539);">INDOVEN1</span>
<div class="abs" style="left:280px;top:829.00px;width:143.60px;height:22px;overflow:hidden;"><span class="t" style="left:8.47px;top:4px;font-size:14px;color:#4b5563;letter-spacing:0.000px;transform:scaleX(1.1336);">1/2Ø Front Loading</span></div>
<div class="abs" style="left:430px;top:829.00px;width:143.60px;height:22px;overflow:hidden;"><span class="t" style="left:10.00px;top:4px;font-size:14px;color:#4b5563;letter-spacing:0.000px;transform:scaleX(1.0925);">TMS Technology Pro</span></div>
<span class="t" style="left:590.20px;top:833.00px;font-size:14px;color:#4b5563;letter-spacing:0.000px;transform:scaleX(1.0691);">WHOLESALE</span>
<span class="t" style="left:738.80px;top:833.00px;font-size:14px;color:#4b5563;letter-spacing:0.000px;transform:scaleX(1.1045);">PRODWHOLE</span>
<span class="t" style="left:888.86px;top:833.00px;font-size:14px;color:#4b5563;letter-spacing:0.323px;transform:scaleX(1.1400);">MAIN</span>
<span class="t" style="left:1093.60px;top:833.00px;font-size:14px;color:#4b5563;letter-spacing:0.000px;">C</span>
<span class="t" style="left:1289.20px;top:833.00px;font-size:14px;color:#4b5563;letter-spacing:-0.000px;transform:scaleX(1.2289);">40</span>
<span class="t" style="left:1449.50px;top:833.00px;font-size:14px;color:#4b5563;letter-spacing:0.000px;">0</span>
<span class="t" style="left:1599.55px;top:833.00px;font-size:14px;color:#4b5563;letter-spacing:0.000px;">0</span>
<span class="t" style="left:1741.80px;top:833.00px;font-size:14px;color:#4b5563;letter-spacing:0.000px;transform:scaleX(1.0452);">29</span>
<span class="t" style="left:138.95px;top:883.00px;font-size:14px;color:#4b5563;letter-spacing:0.000px;transform:scaleX(1.0539);">INDOVEN1</span>
<div class="abs" style="left:280px;top:879.00px;width:143.60px;height:22px;overflow:hidden;"><span class="t" style="left:8.47px;top:4px;font-size:14px;color:#4b5563;letter-spacing:-0.000px;transform:scaleX(1.1328);">1Ø Front Loading Lathe</span></div>
<div class="abs" style="left:430px;top:879.00px;width:143.60px;height:22px;overflow:hidden;"><span class="t" style="left:10.00px;top:4px;font-size:14px;color:#4b5563;letter-spacing:0.000px;transform:scaleX(1.0925);">TMS Technology Pro</span></div>
<span class="t" style="left:590.20px;top:883.00px;font-size:14px;color:#4b5563;letter-spacing:0.000px;transform:scaleX(1.0691);">WHOLESALE</span>
<span class="t" style="left:738.80px;top:883.00px;font-size:14px;color:#4b5563;letter-spacing:0.000px;transform:scaleX(1.1045);">PRODWHOLE</span>
<span class="t" style="left:888.86px;top:883.00px;font-size:14px;color:#4b5563;letter-spacing:0.323px;transform:scaleX(1.1400);">MAIN</span>
<span class="t" style="left:1093.60px;top:883.00px;font-size:14px;color:#4b5563;letter-spacing:0.000px;">C</span>
<span class="t" style="left:1290.00px;top:883.00px;font-size:14px;color:#4b5563;letter-spacing:0.000px;transform:scaleX(1.1782);">94</span>
<span class="t" style="left:1449.50px;top:883.00px;font-size:14px;color:#4b5563;letter-spacing:0.000px;">0</span>
<span class="t" style="left:1599.55px;top:883.00px;font-size:14px;color:#4b5563;letter-spacing:0.000px;">0</span>
<span class="t" style="left:1743.70px;top:883.00px;font-size:14px;color:#4b5563;letter-spacing:-1.186px;">12</span>
</div>
</body></html>
